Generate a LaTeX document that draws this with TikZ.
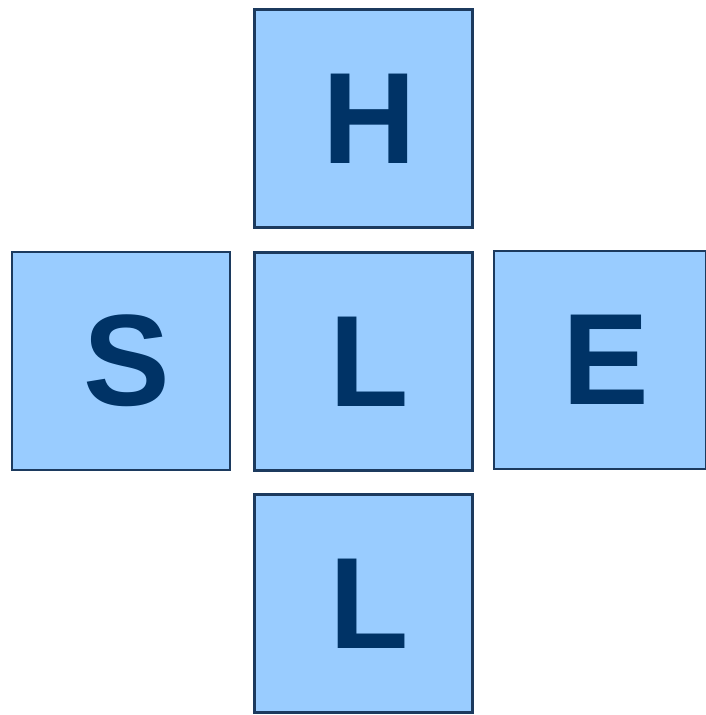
\documentclass[tikz,border=0pt]{standalone}
\usepackage{fontspec}
\newfontfamily\tilefont{Liberation Sans}
\usepackage{tikz}
\definecolor{tilefill}{RGB}{153,204,255}
\definecolor{tileedge}{RGB}{28,58,94}
\definecolor{tileink}{RGB}{0,51,102}
\tikzset{
  tile/.style={draw=tileedge, fill=tilefill, line width=2.5pt, inner sep=0pt,
    minimum width=218pt, minimum height=218pt, text=tileink,
    font=\tilefont\bfseries\fontsize{130}{130}\selectfont,
    execute at begin node={\kern12pt}}
}

\begin{document}
\begin{tikzpicture}[x=1pt, y=-1pt]
    \useasboundingbox (0,0) rectangle (706,715);

    \node[tile] (h) at (363.5,118.5) {H};
    \node[tile] (s) at (121,361) {S};
    \node[tile] (lc) at (363.5,361.5) {L};
    \node[tile, minimum width=212pt] (e) at (600,360) {E};
    \node[tile] (lb) at (363.5,603.5) {L};
\end{tikzpicture}
\end{document}
